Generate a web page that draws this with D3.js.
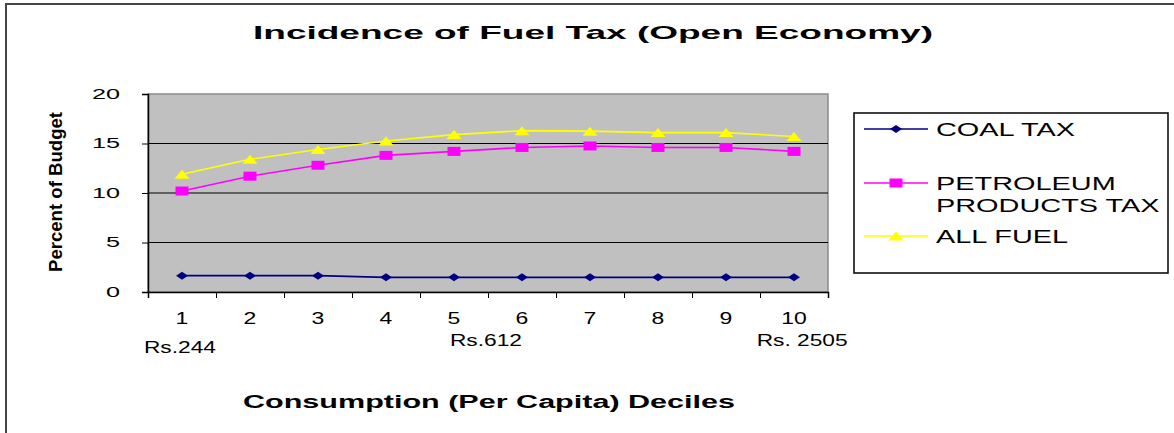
<!DOCTYPE html>
<html>
<head>
<meta charset="utf-8">
<script src="https://cdn.jsdelivr.net/npm/d3@7/dist/d3.min.js"></script>
<style>
  body { margin: 0; background: #fff; }
  text { font-family: Arial, "Liberation Sans", sans-serif; fill: #000; }
</style>
</head>
<body>
<div id="chart"></div>
<script>
// values
const deciles = ['1', '2', '3', '4', '5', '6', '7', '8', '9', '10']
const coalTax = [1.65, 1.65, 1.65, 1.48, 1.48, 1.48, 1.48, 1.48, 1.48, 1.48]
const petroleumTax = [10.2, 11.7, 12.8, 13.8, 14.2, 14.6, 14.75, 14.6, 14.6, 14.2]
const allFuel = [11.9, 13.4, 14.4, 15.25, 15.9, 16.3, 16.25, 16.1, 16.1, 15.7]
const yTicks = [0, 5, 10, 15, 20]
const incomeLabels = ['Rs.244', 'Rs.612', 'Rs. 2505']
const incomeAt = [0.47, 4.97, 9.62] // in decile units along the axis

const series = [
  { name: ['COAL TAX'], values: coalTax, color: '#000080', marker: 'diamond' },
  { name: ['PETROLEUM', 'PRODUCTS TAX'], values: petroleumTax, color: '#ff00ff', marker: 'square' },
  { name: ['ALL FUEL'], values: allFuel, color: '#ffff00', marker: 'triangle' },
]

var width = 1174,
  height = 433

var plot = { left: 148, right: 828, top: 94, bottom: 292 }

var x = d3.scaleBand().domain(deciles).range([plot.left, plot.right]).paddingInner(0)
var xLin = d3.scaleLinear().domain([0, deciles.length]).range([plot.left, plot.right])
var y = d3.scaleLinear().domain([0, 20]).range([plot.bottom, plot.top])

var markers = {
  diamond: 'M-6,0L0,-4L6,0L0,4Z',
  square: 'M-6.5,-4.5H6.5V4.5H-6.5Z',
  triangle: 'M-7.5,4.5L0,-4.5L7.5,4.5Z',
}

// stretch text horizontally like the original picture
function stretch(sel, f) {
  sel.each(function() {
    var w = this.getComputedTextLength()
    d3.select(this).attr('textLength', w * f).attr('lengthAdjust', 'spacingAndGlyphs')
  })
}

var svg = d3
  .select('#chart')
  .append('svg')
  .attr('width', width)
  .attr('height', height)

// outer frame
svg
  .append('rect')
  .attr('x', 6)
  .attr('y', 4)
  .attr('width', width + 20)
  .attr('height', height + 20)
  .attr('fill', 'none')
  .attr('stroke', '#444')
  .attr('stroke-width', 2)

svg
  .append('text')
  .attr('x', 593)
  .attr('y', 39)
  .attr('text-anchor', 'middle')
  .style('font-size', '19px')
  .style('font-weight', 'bold')
  .text('Incidence of Fuel Tax (Open Economy)')
  .attr('textLength', 680)
  .attr('lengthAdjust', 'spacingAndGlyphs')

// plot area
svg
  .append('rect')
  .attr('x', plot.left)
  .attr('y', plot.top)
  .attr('width', plot.right - plot.left)
  .attr('height', plot.bottom - plot.top)
  .attr('fill', '#c0c0c0')
  .attr('stroke', '#8a8a8a')
  .attr('stroke-width', 1.5)

svg
  .append('g')
  .selectAll('line')
  .data(yTicks.filter(d => d > 0 && d < 20))
  .enter()
  .append('line')
  .attr('x1', plot.left)
  .attr('x2', plot.right)
  .attr('y1', d => y(d))
  .attr('y2', d => y(d))
  .attr('stroke', '#000')
  .attr('stroke-width', 1)

// y axis
var yAxis = svg
  .append('g')
  .attr('transform', 'translate(' + plot.left + ',0)')
  .call(d3.axisLeft(y).tickValues(yTicks).tickSize(6).tickPadding(22))
yAxis.select('.domain').attr('stroke', '#000').attr('stroke-width', 1.5)
yAxis.selectAll('line').attr('stroke', '#000')
yAxis.selectAll('text').style('font-size', '14px').attr('fill', '#000').call(stretch, 1.8)

// x axis: boundary ticks, centred labels
var xAxis = svg
  .append('g')
  .attr('transform', 'translate(0,' + plot.bottom + ')')
  .call(d3.axisBottom(xLin).tickValues(d3.range(0, deciles.length + 1)).tickSize(6).tickFormat(''))
xAxis.select('.domain').attr('stroke', '#000').attr('stroke-width', 1.5)
xAxis.selectAll('line').attr('stroke', '#000')

var xLabels = svg
  .append('g')
  .attr('transform', 'translate(0,' + plot.bottom + ')')
  .call(d3.axisBottom(x).tickSize(0).tickPadding(20))
xLabels.select('.domain').remove()
xLabels.selectAll('text').style('font-size', '17px').attr('fill', '#000').call(stretch, 1.35)

var incomeBaseline = [353, 346, 346]
svg
  .append('g')
  .selectAll('text')
  .data(incomeLabels)
  .enter()
  .append('text')
  .attr('x', (d, i) => xLin(incomeAt[i]))
  .attr('y', (d, i) => incomeBaseline[i])
  .attr('text-anchor', 'middle')
  .style('font-size', '16px')
  .text(d => d)
  .call(stretch, 1.42)

svg
  .append('text')
  .attr('x', 489)
  .attr('y', 408)
  .attr('text-anchor', 'middle')
  .style('font-size', '18px')
  .style('font-weight', 'bold')
  .text('Consumption (Per Capita) Deciles')
  .attr('textLength', 492)
  .attr('lengthAdjust', 'spacingAndGlyphs')

svg
  .append('text')
  .attr('transform', 'translate(62,192) rotate(-90)')
  .attr('text-anchor', 'middle')
  .style('font-size', '19px')
  .style('font-weight', 'bold')
  .text('Percent of Budget')
  .attr('textLength', 160)
  .attr('lengthAdjust', 'spacingAndGlyphs')

// series
var line = d3
  .line()
  .x((d, i) => x(deciles[i]) + x.bandwidth() / 2)
  .y(d => y(d))

series.forEach(function(s) {
  var g = svg.append('g')
  g.append('path')
    .attr('d', line(s.values))
    .attr('fill', 'none')
    .attr('stroke', s.color)
    .attr('stroke-width', 1.6)
  g.selectAll('path.mk')
    .data(s.values)
    .enter()
    .append('path')
    .attr('class', 'mk')
    .attr('d', markers[s.marker])
    .attr('transform', (d, i) => 'translate(' + (x(deciles[i]) + x.bandwidth() / 2) + ',' + y(d) + ')')
    .attr('fill', s.color)
})

// legend
var legend = svg.append('g')
legend
  .append('rect')
  .attr('x', 854)
  .attr('y', 113)
  .attr('width', 314)
  .attr('height', 160)
  .attr('fill', '#fff')
  .attr('stroke', '#000')
  .attr('stroke-width', 1.5)

var legendRows = [129, 183, 236]
series.forEach(function(s, i) {
  var ly = legendRows[i]
  legend
    .append('line')
    .attr('x1', 864)
    .attr('x2', 928)
    .attr('y1', ly)
    .attr('y2', ly)
    .attr('stroke', s.color)
    .attr('stroke-width', 1.6)
  legend
    .append('path')
    .attr('d', markers[s.marker])
    .attr('transform', 'translate(896,' + ly + ')')
    .attr('fill', s.color)
  s.name.forEach(function(n, j) {
    legend
      .append('text')
      .attr('x', 936)
      .attr('y', ly + 7 + j * 22)
      .style('font-size', '19px')
      .text(n)
      .call(stretch, 1.52)
  })
})
</script>
</body>
</html>
